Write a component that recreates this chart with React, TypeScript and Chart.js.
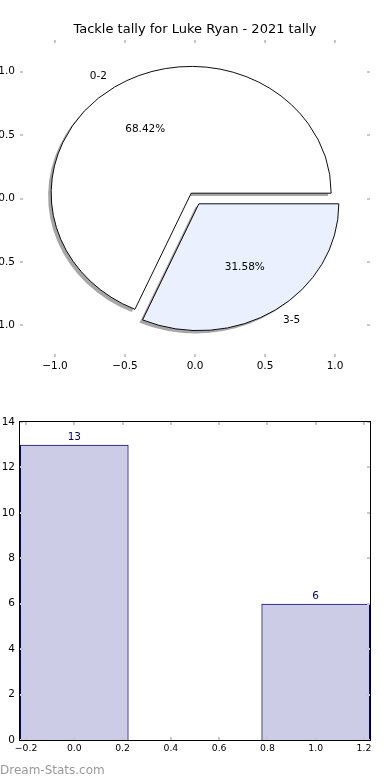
import React, { useEffect, useRef } from 'react';
import { Chart, registerables } from 'chart.js';

Chart.register(...registerables);

// ---- data ----
const TITLE = 'Tackle tally for Luke Ryan - 2021 tally';
const categories = ['0-2', '3-5'];
const tallies = [13, 6];
const pieColors = ['#ffffff', '#eaf0fd'];
const explode = [0.05, 0.05];
const pieTicks = [-1, -0.5, 0, 0.5, 1];
const barPositions = [0, 1];
const barXTicks = [-0.2, 0, 0.2, 0.4, 0.6, 0.8, 1.0, 1.2];
const barYTicks = [0, 2, 4, 6, 8, 10, 12, 14];

const FONT = 'DejaVu Sans';
const TICK_COLOR = '#c8c8c8';
const NAVY = '#000080';

const fmt = (v: number, d: number) => {
  const s = Math.abs(v).toFixed(d);
  return v < 0 ? '\u2212' + s : s;
};

const total = tallies.reduce((a, b) => a + b, 0);

function innerTicks(len: number) {
  return {
    id: 'innerTicks',
    afterDatasetsDraw(chart: any) {
      const { ctx, chartArea: a, scales } = chart;
      ctx.save();
      ctx.fillStyle = TICK_COLOR;
      scales.x.ticks.forEach((t: any) => {
        const px = Math.round(scales.x.getPixelForValue(t.value));
        ctx.fillRect(px - 1, a.top, 2, len);
        ctx.fillRect(px - 1, a.bottom - len, 2, len);
      });
      scales.y.ticks.forEach((t: any) => {
        const py = Math.round(scales.y.getPixelForValue(t.value));
        ctx.fillRect(a.left, py - 1, len, 2);
        ctx.fillRect(a.right - len, py - 1, len, 2);
      });
      ctx.restore();
    },
  };
}

const pieDraw = {
  id: 'pieDraw',
  beforeDatasetDraw(chart: any, args: any) {
    const ctx = chart.ctx;
    const xs = chart.scales.x;
    const ys = chart.scales.y;
    const arcs = args.meta.data;
    if (!arcs.length) return false;
    const ux = xs.getPixelForValue(1) - xs.getPixelForValue(0);
    const uy = ys.getPixelForValue(0) - ys.getPixelForValue(1);
    const cx = arcs[0].x;
    const cy = arcs[0].y;
    const R = arcs[0].outerRadius;
    ctx.save();
    ctx.translate(cx, cy);
    ctx.scale(ux / R, uy / R);
    ctx.translate(-cx, -cy);
    // shadows
    arcs.forEach((arc: any, i: number) => {
      const mid = (arc.startAngle + arc.endAngle) / 2;
      const e = explode[i] * arc.outerRadius;
      const ox = arc.x + Math.cos(mid) * e - 0.022 * arc.outerRadius;
      const oy = arc.y + Math.sin(mid) * e + 0.022 * arc.outerRadius;
      ctx.beginPath();
      ctx.moveTo(ox, oy);
      ctx.arc(ox, oy, arc.outerRadius, arc.startAngle, arc.endAngle);
      ctx.closePath();
      ctx.fillStyle = 'rgba(77,77,77,0.5)';
      ctx.fill();
    });
    // wedges
    arcs.forEach((arc: any, i: number) => {
      const mid = (arc.startAngle + arc.endAngle) / 2;
      const e = explode[i] * arc.outerRadius;
      ctx.save();
      ctx.translate(Math.cos(mid) * e, Math.sin(mid) * e);
      arc.draw(ctx);
      ctx.restore();
    });
    ctx.restore();
    return false;
  },
  afterDatasetsDraw(chart: any) {
    const ctx = chart.ctx;
    const xs = chart.scales.x;
    const ys = chart.scales.y;
    const arcs = chart.getDatasetMeta(0).data;
    ctx.save();
    ctx.fillStyle = '#000';
    ctx.font = `10.5px "${FONT}"`;
    ctx.textBaseline = 'middle';
    arcs.forEach((arc: any, i: number) => {
      const mid = (arc.startAngle + arc.endAngle) / 2;
      const dx = Math.cos(mid);
      const dy = -Math.sin(mid);
      const lx = dx * (explode[i] + 1.1);
      const ly = dy * (explode[i] + 1.1);
      ctx.textAlign = lx > 0 ? 'left' : 'right';
      ctx.fillText(categories[i], xs.getPixelForValue(lx), ys.getPixelForValue(ly));
      const px = dx * (explode[i] + 0.6);
      const py = dy * (explode[i] + 0.6);
      ctx.textAlign = 'center';
      ctx.fillText(((tallies[i] / total) * 100).toFixed(2) + '%', xs.getPixelForValue(px), ys.getPixelForValue(py));
    });
    ctx.restore();
  },
};

const frame = {
  id: 'frame',
  afterDatasetsDraw(chart: any) {
    const { ctx, chartArea: a } = chart;
    ctx.save();
    ctx.strokeStyle = '#000';
    ctx.lineWidth = 1;
    ctx.strokeRect(a.left - 0.5, a.top - 0.5, a.right - a.left + 1, a.bottom - a.top + 1);
    ctx.restore();
  },
};

const barLabels = {
  id: 'barLabels',
  afterDatasetsDraw(chart: any) {
    const ctx = chart.ctx;
    const bars = chart.getDatasetMeta(0).data;
    ctx.save();
    ctx.fillStyle = NAVY;
    ctx.font = `10.5px "${FONT}"`;
    ctx.textAlign = 'center';
    ctx.textBaseline = 'alphabetic';
    bars.forEach((b: any, i: number) => {
      ctx.fillText(String(tallies[i]), b.x, b.y - 5);
    });
    ctx.restore();
  },
};

export default function App() {
  const pieRef = useRef<HTMLCanvasElement>(null);
  const barRef = useRef<HTMLCanvasElement>(null);

  useEffect(() => {
    Chart.defaults.font.family = FONT;
    const frac0 = tallies[0] / total;
    const pie = new Chart(pieRef.current as HTMLCanvasElement, {
      type: 'pie',
      data: {
        labels: categories,
        datasets: [
          {
            data: tallies,
            backgroundColor: pieColors,
            borderColor: '#000',
            borderWidth: 1,
            borderJoinStyle: 'miter',
            radius: 140,
            rotation: 450 - 360 * frac0,
            clip: false,
          } as any,
        ],
      },
      options: {
        responsive: false,
        animation: false,
        devicePixelRatio: 1,
        events: [],
        layout: { padding: { left: 0, right: 20, top: 0, bottom: 0 } },
        plugins: {
          legend: { display: false },
          tooltip: { enabled: false },
          title: {
            display: true,
            fullSize: false,
            text: TITLE,
            color: '#000',
            font: { family: FONT, size: 13, weight: 'normal' },
            padding: { top: 22, bottom: 2.4 },
          },
        },
        scales: {
          x: {
            type: 'linear',
            position: 'bottom',
            min: -1.25,
            max: 1.25,
            grid: { display: false, drawTicks: false },
            border: { display: false },
            afterFit: (s: any) => { s.height = 23; },
            afterBuildTicks: (s: any) => { s.ticks = pieTicks.map((v) => ({ value: v })); },
            ticks: {
              padding: 3,
              color: '#000',
              font: { family: FONT, size: 10.5 },
              maxRotation: 0,
              autoSkip: false,
              callback: (v: any) => fmt(Number(v), 1),
            },
          },
          y: {
            type: 'linear',
            position: 'left',
            min: -1.25,
            max: 1.25,
            grid: { display: false, drawTicks: false },
            border: { display: false },
            afterFit: (s: any) => { s.width = 20; },
            afterBuildTicks: (s: any) => { s.ticks = pieTicks.map((v) => ({ value: v })); },
            ticks: {
              padding: 5,
              color: '#000',
              font: { family: FONT, size: 10.5 },
              autoSkip: false,
              callback: (v: any) => fmt(Number(v), 1),
            },
          },
        } as any,
      } as any,
      plugins: [pieDraw, innerTicks(3)],
    });

    const bar = new Chart(barRef.current as HTMLCanvasElement, {
      type: 'bar',
      data: {
        datasets: [
          {
            data: barPositions.map((x, i) => ({ x, y: tallies[i] })),
            backgroundColor: 'rgba(0,0,128,0.2)',
            borderColor: NAVY,
            borderWidth: 1,
            borderSkipped: 'start',
            barPercentage: 0.45,
            categoryPercentage: 1,
            xAxisID: 'xb',
          } as any,
        ],
      },
      options: {
        responsive: false,
        animation: false,
        devicePixelRatio: 1,
        events: [],
        layout: { padding: { left: 0, right: 20, top: 42, bottom: 0 } },
        plugins: {
          legend: { display: false },
          tooltip: { enabled: false },
          title: { display: false },
        },
        scales: {
          x: {
            type: 'linear',
            position: 'bottom',
            offset: false,
            min: -0.225,
            max: 1.225,
            grid: { display: false, drawTicks: false },
            border: { display: false },
            afterFit: (s: any) => { s.height = 40; },
            afterBuildTicks: (s: any) => { s.ticks = barXTicks.map((v) => ({ value: v })); },
            ticks: {
              padding: 3,
              color: '#000',
              font: { family: FONT, size: 9.3 },
              maxRotation: 0,
              autoSkip: false,
              callback: (v: any) => fmt(Number(v), 1),
            },
          },
          xb: {
            type: 'linear',
            position: 'bottom',
            display: false,
            offset: false,
            min: -0.225,
            max: 1.225,
            afterBuildTicks: (s: any) => { s.ticks = [{ value: s.min }, { value: s.max }]; },
          },
          y: {
            type: 'linear',
            position: 'left',
            min: 0,
            max: 14,
            grid: { display: false, drawTicks: false },
            border: { display: false },
            afterFit: (s: any) => { s.width = 20; },
            afterBuildTicks: (s: any) => { s.ticks = barYTicks.map((v) => ({ value: v })); },
            ticks: {
              padding: 5,
              color: '#000',
              font: { family: FONT, size: 10.5 },
              autoSkip: false,
              callback: (v: any) => String(v),
            },
          },
        } as any,
      } as any,
      plugins: [innerTicks(3), frame, barLabels],
    });

    return () => {
      pie.destroy();
      bar.destroy();
    };
  }, []);

  return (
    <div style={{ position: 'absolute', left: 0, top: 0, width: 390, height: 780, background: '#fff', overflow: 'hidden' }}>
      <canvas ref={pieRef} width={390} height={380} style={{ position: 'absolute', left: 0, top: 0 }} />
      <canvas ref={barRef} width={390} height={400} style={{ position: 'absolute', left: 0, top: 380 }} />
      <div
        style={{
          position: 'absolute',
          left: 0,
          top: 764,
          fontFamily: FONT,
          fontSize: 12,
          lineHeight: '12px',
          color: '#999',
          whiteSpace: 'nowrap',
        }}
      >
        Dream-Stats.com
      </div>
    </div>
  );
}
